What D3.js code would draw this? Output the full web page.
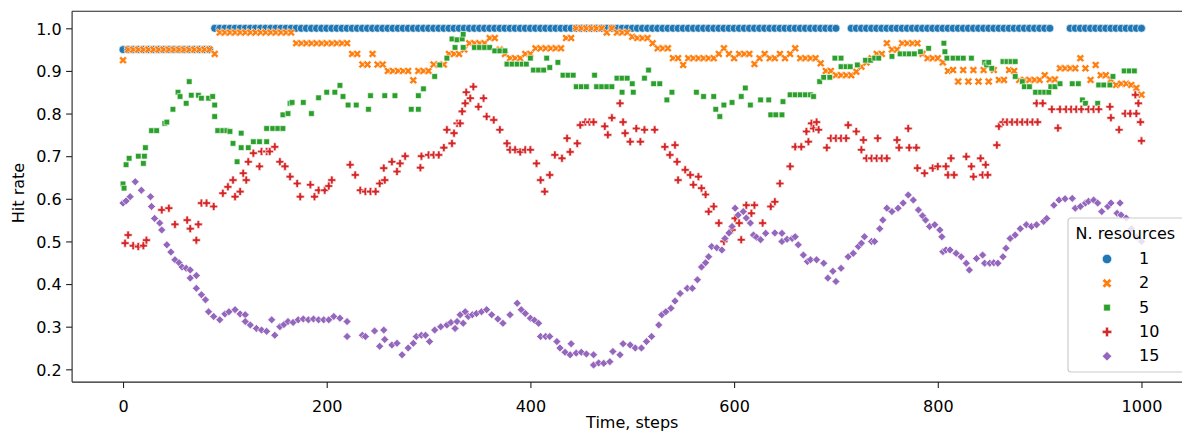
<!DOCTYPE html>
<html><head><meta charset="utf-8">
<script src="https://cdn.jsdelivr.net/npm/d3@7"></script>
<style>body{margin:0;background:#fff} svg text{font-family:"DejaVu Sans",sans-serif;fill:#000}</style>
</head><body><svg id="c" width="1182" height="433"></svg>
<script>
// ---------------- data ----------------
const seriesNames = ["1","2","5","10","15"];
const seriesColors = ["#1f77b4","#ff7f0e","#2ca02c","#d62728","#9467bd"];
const seriesMarkers = ["circle","x","square","plus","diamond"];
const xTicks = [0,200,400,600,800,1000];
const yTicks = [0.2,0.3,0.4,0.5,0.6,0.7,0.8,0.9,1.0];
const xLabel = "Time, steps";
const yLabel = "Hit rate";
const legendTitle = "N. resources";

// [time step, hit rate]
const hit1 = [
[0,.95],[5,.95],[10,.95],[15,.95],[20,.95],[25,.95],[30,.95],[35,.95],[40,.95],[45,.95],
[50,.95],[55,.95],[60,.95],[65,.95],[70,.95],[75,.95],[80,.95],[85,.95],[90,1],[95,1],
[100,1],[105,1],[110,1],[115,1],[120,1],[125,1],[130,1],[135,1],[140,1],[145,1],
[150,1],[155,1],[160,1],[165,1],[170,1],[175,1],[180,1],[185,1],[190,1],[195,1],
[200,1],[205,1],[210,1],[215,1],[220,1],[225,1],[230,1],[235,1],[240,1],[245,1],
[250,1],[255,1],[260,1],[265,1],[270,1],[275,1],[280,1],[285,1],[290,1],[295,1],
[300,1],[305,1],[310,1],[315,1],[320,1],[325,1],[330,1],[335,1],[340,1],[345,1],
[350,1],[355,1],[360,1],[365,1],[370,1],[375,1],[380,1],[385,1],[390,1],[395,1],
[400,1],[405,1],[410,1],[415,1],[420,1],[425,1],[430,1],[435,1],[440,1],[445,1],
[450,1],[455,1],[460,1],[465,1],[470,1],[475,1],[480,1],[485,1],[490,1],[495,1],
[500,1],[505,1],[510,1],[515,1],[520,1],[525,1],[530,1],[535,1],[540,1],[545,1],
[550,1],[555,1],[560,1],[565,1],[570,1],[575,1],[580,1],[585,1],[590,1],[595,1],
[600,1],[605,1],[610,1],[615,1],[620,1],[625,1],[630,1],[635,1],[640,1],[645,1],
[650,1],[655,1],[660,1],[665,1],[670,1],[675,1],[680,1],[685,1],[690,1],[695,1],
[700,1],[715,1],[720,1],[725,1],[730,1],[735,1],[740,1],[745,1],
[750,1],[755,1],[760,1],[765,1],[770,1],[775,1],[780,1],[785,1],[790,1],[795,1],
[800,1],[805,1],[810,1],[815,1],[820,1],[825,1],[830,1],[835,1],[840,1],[845,1],
[850,1],[855,1],[860,1],[865,1],[870,1],[875,1],[880,1],[885,1],[890,1],[895,1],
[900,1],[905,1],[910,1],[930,1],[935,1],[940,1],[945,1],
[950,1],[955,1],[960,1],[965,1],[970,1],[975,1],[980,1],[985,1],[990,1],[995,1],[1000,1]
];
const hit2 = [
[0,.925],[5,.95],[10,.95],[15,.95],[20,.95],[25,.95],[30,.95],[35,.95],[40,.95],[45,.95],
[50,.95],[55,.95],[60,.95],[65,.95],[70,.95],[75,.95],[80,.95],[85,.95],[90,.94],[95,.99],
[100,.99],[105,.99],[110,.99],[115,.99],[120,.99],[125,.99],[130,.99],[135,.99],[140,.99],[145,.99],
[150,.99],[155,.99],[160,.99],[165,.99],[170,.965],[175,.965],[180,.965],[185,.965],[190,.965],[195,.965],
[200,.965],[205,.965],[210,.965],[215,.965],[220,.965],[225,.94],[230,.94],[235,.915],[240,.915],[245,.94],
[250,.915],[255,.915],[260,.9],[265,.9],[270,.9],[275,.9],[280,.9],[285,.878],[290,.9],[295,.9],
[300,.9],[305,.915],[310,.915],[315,.915],[320,.94],[325,.94],[330,.94],[335,.95],[340,.965],[345,.965],
[350,.965],[355,.965],[360,.977],[365,.977],[370,.95],[375,.94],[380,.93],[385,.93],[390,.93],[395,.94],
[400,.94],[405,.953],[410,.953],[415,.953],[420,.953],[425,.953],[430,.953],[435,.977],[440,.977],[445,1],
[450,1],[455,1],[460,1],[465,1],[470,1],[475,.99],[480,1],[485,.99],[490,.99],[495,.99],
[500,.98],[505,.977],[510,.977],[515,.977],[520,.965],[525,.953],[530,.953],[535,.953],[540,.93],[545,.93],
[550,.914],[555,.93],[560,.93],[565,.93],[570,.93],[575,.93],[580,.93],[585,.94],[590,.953],[595,.94],
[600,.93],[605,.94],[610,.94],[615,.94],[620,.916],[625,.93],[630,.94],[635,.93],[640,.93],[645,.94],
[650,.93],[655,.94],[660,.953],[665,.93],[670,.93],[675,.93],[680,.93],[685,.918],[690,.9],[695,.9],
[700,.89],[705,.89],[710,.89],[715,.89],[720,.898],[725,.91],[730,.92],[735,.93],[740,.94],[745,.94],
[750,.965],[755,.95],[760,.95],[765,.965],[770,.965],[775,.965],[780,.965],[785,.94],[790,.93],[795,.93],
[800,.93],[805,.92],[810,.9],[815,.902],[820,.875],[825,.902],[830,.875],[835,.902],[840,.875],[845,.902],
[850,.875],[855,.902],[860,.879],[865,.879],[870,.902],[875,.9],[880,.879],[885,.879],[890,.879],[895,.879],
[900,.879],[905,.89],[910,.88],[915,.88],[920,.906],[925,.906],[930,.906],[935,.906],[940,.93],[945,.906],
[950,.879],[955,.914],[960,.89],[965,.89],[970,.88],[975,.867],[980,.87],[985,.87],[990,.867],[995,.86],
[1000,.844]
];
const hit5 = [
[0,.635],[1,.625],[3,.68],[6,.695],[15,.70],[20,.683],[21,.70],[22,.72],[28,.76],[33,.76],
[41,.777],[43,.78],[49,.81],[54,.85],[56,.84],[62,.824],[65,.875],[67,.843],[74,.843],[77,.836],
[84,.836],[88,.84],[90,.82],[90,.793],[93,.76],[98,.76],[102,.76],[105,.758],[108,.73],[112,.687],
[116,.754],[116,.72],[123,.72],[128,.734],[134,.734],[141,.734],[141,.765],[147,.765],[152,.765],[157,.765],
[157,.797],[162,.80],[164,.824],[166,.826],[177,.826],[185,.80],[192,.837],[200,.85],[208,.85],[213,.866],
[216,.84],[221,.82],[229,.82],[241,.81],[243,.842],[257,.842],[267,.842],[283,.81],[290,.81],[290,.842],
[295,.858],[306,.887],[311,.914],[318,.93],[323,.975],[326,.955],[328,.973],[333,.975],[334,.986],[334,.955],
[345,.955],[350,.955],[355,.955],[360,.955],[365,.947],[370,.947],[375,.947],[377,.916],[382,.916],[387,.916],
[392,.916],[396,.916],[400,.93],[403,.902],[408,.902],[413,.902],[416,.93],[419,.908],[427,.92],[432,.89],
[437,.89],[442,.89],[445,.863],[450,.863],[455,.863],[463,.89],[465,.863],[470,.863],[475,.863],[480,.863],
[485,.883],[490,.883],[490,.85],[495,.883],[500,.87],[501,.85],[512,.883],[516,.902],[521,.87],[527,.87],
[534,.832],[539,.85],[563,.85],[570,.84],[580,.84],[582,.81],[586,.793],[590,.82],[598,.826],[607,.84],
[611,.86],[616,.82],[626,.832],[634,.832],[636,.797],[641,.797],[647,.797],[648,.828],[655,.844],[660,.844],
[665,.844],[670,.844],[675,.844],[678,.84],[684,.875],[688,.885],[694,.885],[699,.93],[705,.93],[705,.91],
[710,.91],[714,.91],[721,.914],[729,.925],[734,.925],[738,.93],[742,.93],[755,.934],[763,.94],[768,.94],
[772,.94],[777,.94],[783,.945],[791,.953],[806,.965],[807,.945],[809,.93],[815,.93],[820,.93],[825,.93],
[833,.93],[846,.92],[848,.914],[850,.92],[853,.906],[864,.922],[868,.922],[872,.922],[876,.922],[876,.887],
[883,.875],[885,.863],[890,.863],[896,.85],[901,.85],[905,.85],[909,.85],[911,.863],[915,.863],[920,.87],
[932,.87],[938,.87],[942,.832],[945,.824],[957,.824],[958,.867],[963,.867],[969,.867],[972,.887],[983,.9],
[988,.9],[993,.9]
];
const hit10 = [
[2,.496],[5,.515],[10,.49],[15,.488],[20,.49],[23,.503],[38,.574],[45,.578],[51,.54],[63,.55],
[66,.53],[72,.503],[74,.54],[77,.59],[82,.59],[89,.582],[98,.613],[103,.628],[108,.644],[110,.605],
[115,.617],[118,.66],[121,.644],[123,.687],[128,.707],[134,.676],[136,.711],[141,.711],[144,.711],[149,.722],
[154,.687],[159,.676],[164,.652],[171,.636],[174,.605],[184,.633],[188,.605],[192,.62],[198,.62],[202,.63],
[205,.644],[223,.68],[228,.656],[233,.62],[238,.617],[243,.617],[248,.617],[252,.636],[256,.672],[257,.644],
[264,.687],[269,.664],[272,.683],[277,.70],[292,.673],[293,.70],[300,.703],[305,.703],[310,.703],[315,.72],
[318,.762],[323,.73],[325,.754],[328,.777],[331,.777],[333,.805],[336,.824],[337,.85],[341,.836],[344,.863],
[349,.816],[354,.836],[357,.793],[364,.785],[370,.762],[377,.73],[380,.715],[385,.715],[390,.71],[395,.715],
[400,.715],[406,.683],[410,.644],[414,.617],[419,.656],[424,.703],[431,.695],[436,.742],[439,.71],[446,.73],
[449,.773],[454,.78],[458,.78],[462,.78],[473,.77],[476,.75],[480,.79],[488,.824],[491,.78],[493,.754],
[498,.734],[504,.765],[508,.734],[512,.762],[522,.762],[532,.722],[537,.703],[542,.726],[544,.687],[545,.644],
[552,.668],[557,.656],[560,.633],[565,.652],[568,.625],[572,.61],[575,.57],[580,.582],[585,.543],[590,.50],
[598,.527],[601,.554],[605,.543],[607,.504],[612,.585],[617,.566],[620,.585],[628,.543],[636,.582],[640,.593],
[645,.636],[655,.676],[660,.722],[666,.722],[671,.758],[673,.734],[676,.777],[678,.765],[681,.78],[683,.762],
[691,.72],[695,.742],[700,.742],[705,.742],[710,.742],[712,.773],[720,.758],[725,.715],[727,.738],[730,.695],
[735,.695],[740,.695],[741,.742],[745,.695],[750,.695],[760,.738],[762,.72],[771,.765],[772,.72],[779,.72],
[780,.672],[787,.66],[795,.672],[800,.676],[808,.676],[810,.656],[813,.695],[816,.656],[828,.699],[833,.676],
[835,.652],[842,.695],[844,.656],[847,.68],[849,.656],[858,.726],[860,.77],[864,.78],[868,.78],[873,.78],
[878,.78],[883,.78],[888,.78],[893,.78],[897,.824],[898,.78],[903,.824],[912,.81],[918,.766],[920,.81],
[926,.81],[931,.81],[936,.81],[941,.81],[948,.81],[953,.81],[958,.81],[969,.816],[970,.79],[978,.762],
[984,.80],[989,.80],[994,.844],[995,.80],[997,.824],[999,.78],[1000,.736]
];
const hit15 = [
[0,.59],[3,.595],[7,.605],[12,.64],[18,.62],[27,.605],[28,.582],[31,.554],[36,.543],[38,.527],
[43,.492],[47,.475],[51,.457],[55,.45],[58,.44],[62,.437],[66,.433],[66,.414],[72,.42],[72,.39],
[77,.375],[81,.363],[84,.335],[89,.324],[95,.316],[100,.33],[104,.335],[110,.34],[115,.33],[120,.328],
[120,.312],[125,.304],[131,.296],[136,.292],[141,.289],[146,.316],[149,.28],[154,.3],[158,.305],[162,.312],
[167,.31],[172,.316],[177,.318],[182,.316],[187,.318],[192,.316],[197,.316],[202,.316],[207,.324],[213,.32],
[220,.312],[220,.277],[235,.28],[238,.277],[247,.29],[252,.254],[256,.292],[257,.27],[264,.257],[269,.261],
[274,.234],[280,.25],[285,.261],[288,.277],[293,.28],[297,.28],[301,.265],[306,.292],[312,.3],[318,.304],
[322,.31],[326,.296],[328,.312],[331,.328],[334,.308],[336,.335],[339,.324],[343,.328],[347,.331],[352,.335],
[357,.34],[362,.328],[368,.318],[373,.308],[380,.328],[387,.355],[391,.34],[395,.331],[400,.32],[404,.315],
[408,.308],[410,.277],[415,.277],[419,.277],[426,.265],[429,.25],[434,.24],[439,.234],[440,.26],[445,.238],
[450,.24],[455,.236],[462,.234],[462,.21],[467,.215],[472,.214],[478,.218],[481,.242],[488,.234],[491,.26],
[498,.257],[503,.25],[509,.25],[514,.265],[519,.277],[526,.304],[529,.328],[533,.335],[538,.343],[542,.36],
[547,.378],[554,.39],[559,.39],[564,.41],[568,.44],[572,.45],[575,.464],[578,.488],[583,.485],[588,.48],
[591,.507],[595,.52],[598,.535],[601,.578],[604,.562],[609,.57],[612,.555],[616,.543],[619,.515],[622,.51],
[626,.504],[631,.519],[640,.52],[647,.519],[647,.5],[652,.505],[657,.507],[660,.511],[663,.492],[668,.468],
[672,.453],[675,.457],[681,.457],[688,.449],[692,.414],[697,.43],[700,.406],[705,.437],[712,.464],[717,.472],
[722,.488],[725,.496],[728,.511],[735,.5],[738,.5],[743,.53],[746,.55],[750,.578],[755,.57],[761,.578],
[766,.59],[771,.609],[776,.597],[781,.574],[785,.56],[788,.55],[792,.535],[797,.539],[802,.527],[804,.511],
[805,.476],[808,.48],[812,.48],[818,.472],[823,.464],[828,.449],[831,.433],[838,.46],[844,.468],[846,.449],
[851,.449],[855,.45],[859,.449],[864,.464],[867,.484],[871,.507],[876,.515],[881,.53],[887,.539],[892,.535],
[897,.539],[904,.547],[907,.554],[914,.585],[919,.597],[925,.6],[932,.601],[935,.578],[940,.582],[945,.59],
[948,.594],[953,.597],[957,.59],[961,.57],[967,.582],[970,.59],[976,.566],[979,.59],[980,.562],[985,.555],
[990,.53],[995,.51],[1000,.5]
];
const seriesData = [hit1, hit2, hit5, hit10, hit15];

// ---------------- layout ----------------
const svg = d3.select("#c");
const W = 1182, H = 433;
const pLeft = 72.1, pRight = 1192.4, pTop = 11.25, pBottom = 382.1;
const x = d3.scaleLinear().domain([-50, 1050]).range([pLeft, pRight]);
const y = d3.scaleLinear().domain([0.17, 1.04]).range([pBottom, pTop]);
const FS = 16;
const MS = 8; // marker size px
const TICK = 6;

function markerPath(kind, s) {
  const h = s / 2;
  let pts;
  if (kind === "plus") {
    const u = s / 6;
    pts = [[-1,-3],[1,-3],[1,-1],[3,-1],[3,1],[1,1],[1,3],[-1,3],[-1,1],[-3,1],[-3,-1],[-1,-1]].map(p => [p[0]*u, p[1]*u]);
  } else if (kind === "x") {
    const u = s / 4;
    pts = [[-1,-2],[0,-1],[1,-2],[2,-1],[1,0],[2,1],[1,2],[0,1],[-1,2],[-2,1],[-1,0],[-2,-1]].map(p => [p[0]*u, p[1]*u]);
  } else if (kind === "square") {
    const a = h * Math.SQRT1_2;
    pts = [[-a,-a],[a,-a],[a,a],[-a,a]];
  } else if (kind === "diamond") {
    pts = [[0,-h],[h,0],[0,h],[-h,0]];
  } else {
    return d3.arc()({innerRadius:0, outerRadius:h, startAngle:0, endAngle:2*Math.PI});
  }
  return "M" + pts.map(p => p[0].toFixed(2) + "," + p[1].toFixed(2)).join("L") + "Z";
}

svg.append("rect").attr("width", W).attr("height", H).attr("fill", "#fff");

// points
const plot = svg.append("g");
seriesData.forEach((data, i) => {
  const path = markerPath(seriesMarkers[i], MS);
  plot.append("g").selectAll("path").data(data).join("path")
    .attr("d", path)
    .attr("transform", d => `translate(${x(d[0])},${y(d[1])})`)
    .attr("fill", seriesColors[i])
    .attr("stroke", "#fff")
    .attr("stroke-width", 0.64);
});

// axes
const xAxis = svg.append("g").attr("transform", `translate(0,${pBottom})`)
  .call(d3.axisBottom(x).tickValues(xTicks).tickSize(TICK).tickPadding(6).tickFormat(d3.format("d")));
const yAxis = svg.append("g").attr("transform", `translate(${pLeft},0)`)
  .call(d3.axisLeft(y).tickValues(yTicks).tickSize(TICK).tickPadding(4.5).tickFormat(d3.format(".1f")));
[xAxis, yAxis].forEach(a => {
  a.select(".domain").remove();
  a.selectAll(".tick line").attr("stroke", "#222").attr("stroke-width", 1.1);
  a.selectAll(".tick text").attr("font-size", FS).attr("font-family", "DejaVu Sans").attr("fill", "#222");
});
xAxis.selectAll(".tick text").attr("dy", null).attr("y", 30);
yAxis.selectAll(".tick text").attr("dy", "0.36em");
// spines
const sp = svg.append("g").attr("stroke", "#222").attr("stroke-width", 1.1).attr("fill", "none");
sp.append("line").attr("x1", pLeft).attr("x2", pLeft).attr("y1", pTop).attr("y2", pBottom);
sp.append("line").attr("x1", pLeft).attr("x2", pRight).attr("y1", pBottom).attr("y2", pBottom);
sp.append("line").attr("x1", pLeft).attr("x2", pRight).attr("y1", pTop).attr("y2", pTop);
sp.append("line").attr("x1", pRight).attr("x2", pRight).attr("y1", pTop).attr("y2", pBottom);

// axis labels
svg.append("text").attr("x", (pLeft + pRight) / 2).attr("y", 428).attr("text-anchor", "middle")
  .attr("font-size", FS).attr("fill", "#222").text(xLabel);
svg.append("text").attr("transform", `translate(24,193) rotate(-90)`)
  .attr("text-anchor", "middle").attr("font-size", FS).attr("fill", "#222").text(yLabel);

// legend
const lg = svg.append("g");
lg.append("rect").attr("x", 1068).attr("y", 218).attr("width", 117).attr("height", 154)
  .attr("rx", 3).attr("fill", "#fff").attr("fill-opacity", 0.8).attr("stroke", "#ccc").attr("stroke-width", 1.2);
lg.append("text").attr("x", 1075.5).attr("y", 239).attr("font-size", FS).attr("fill", "#222").text(legendTitle);
seriesNames.forEach((name, i) => {
  const by = 264 + i * 24.3;
  lg.append("path").attr("d", markerPath(seriesMarkers[i], 9.5))
    .attr("transform", `translate(1107,${by - 5})`)
    .attr("fill", seriesColors[i]).attr("stroke", "#fff").attr("stroke-width", 0.64);
  lg.append("text").attr("x", 1139).attr("y", by).attr("font-size", FS).attr("fill", "#222").text(name);
});
</script></body></html>
